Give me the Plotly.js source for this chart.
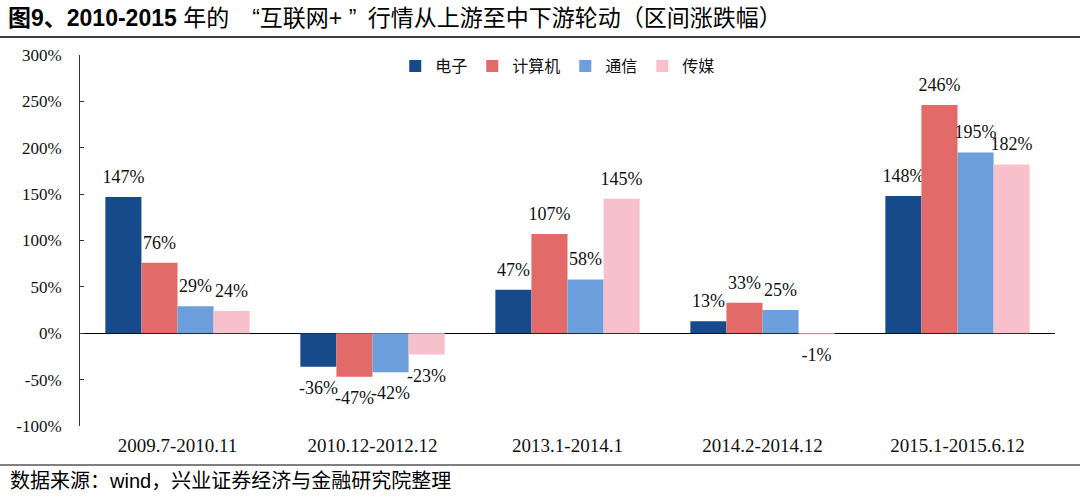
<!DOCTYPE html>
<html><head><meta charset="utf-8">
<script src="https://cdn.plot.ly/plotly-3.0.1.min.js"></script>
<style>html,body{margin:0;padding:0;background:#fff;}#c{width:1080px;height:497px;}</style>
</head><body><div id="c"></div>
<script>
const categories = ["2009.7-2010.11","2010.12-2012.12","2013.1-2014.1","2014.2-2014.12","2015.1-2015.6.12"];
const seriesNames = ["电子","计算机","通信","传媒"];
const dianzi = [147, -36, 47, 13, 148];
const jisuanji = [76, -47, 107, 33, 246];
const tongxin = [29, -42, 58, 25, 195];
const chuanmei = [24, -23, 145, -1, 182];
const colors = ["#174A8B","#E26A68","#6C9FDC","#F7C0CA"];
const yTicks = [-100,-50,0,50,100,150,200,250,300];

const allSeries = [dianzi, jisuanji, tongxin, chuanmei];
const serif = "Liberation Serif, Times New Roman, serif";
const big = s => "<span style='font-size:18px'>" + s + "</span>";
const traces = allSeries.map((vals,i)=>({
  type:'bar', name: seriesNames[i], x: categories, y: vals,
  marker:{color: colors[i]},
  text: vals.map(v=> v>=0 ? (big(v+'%')+'<br> ') : (' <br> <br>'+big(v+'%'))),
  textposition:'outside', cliponaxis:false, constraintext:'none',
  textfont:{family: serif, size:7, color:'#111'},
  hoverinfo:'none'
}));
const L=80, R=25, W=1080-L-R;
const layout = {
  width:1080, height:497,
  margin:{l:L, r:R, t:55, b:71},
  paper_bgcolor:'#fff', plot_bgcolor:'#fff',
  barmode:'group', bargap:0.26, bargroupgap:0,
  title:{text:'<b>图9、2010-2015</b> 年的\u2003“互联网+ ”\u2002行情从上游至中下游轮动（区间涨跌幅）',
    x:8/1080, xanchor:'left', xref:'container', y:1-18/497, yanchor:'middle', yref:'container',
    font:{family:'Liberation Sans, Noto Sans CJK SC, sans-serif', size:23, color:'#000'}},
  showlegend:true,
  legend:{orientation:'h', x:0.49, xanchor:'center', y:1-11/371, yanchor:'middle',
    font:{family:'Noto Sans CJK SC, serif', size:16, color:'#111'}, traceorder:'normal',
    itemwidth:30, bgcolor:'rgba(0,0,0,0)'},
  xaxis:{type:'category', showline:false, ticks:'', showgrid:false, zeroline:false,
    ticklabelstandoff:6,
    tickfont:{family:serif, size:19, color:'#111'}},
  yaxis:{range:[-100,300], tickvals:yTicks, ticktext:yTicks.map(v=>v+'%'),
    showline:true, linecolor:'#333', linewidth:1, ticks:'inside', ticklen:4, tickcolor:'#333',
    ticklabelstandoff:14,
    showgrid:false, zeroline:true, zerolinecolor:'#000', zerolinewidth:1.5,
    tickfont:{family:serif, size:17, color:'#111'}},
  shapes:[
    {type:'line', xref:'paper', yref:'paper', x0:-L/W, x1:1+R/W, y0:1+(55-37)/371, y1:1+(55-37)/371, line:{color:'#000', width:1.5}},
    {type:'line', xref:'paper', yref:'paper', x0:-L/W, x1:1+R/W, y0:-(465-426)/371, y1:-(465-426)/371, line:{color:'#000', width:1}}
  ],
  annotations:[
    {text:'数据来源：wind，兴业证券经济与金融研究院整理', xref:'paper', yref:'paper',
     x:-(L-8)/W, xanchor:'left', y:-(481-426)/371, yanchor:'middle', showarrow:false,
     font:{family:'Liberation Sans, Noto Sans CJK SC, sans-serif', size:20, color:'#000'}}
  ]
};
Plotly.newPlot('c', traces, layout, {displayModeBar:false, staticPlot:true});
</script></body></html>
